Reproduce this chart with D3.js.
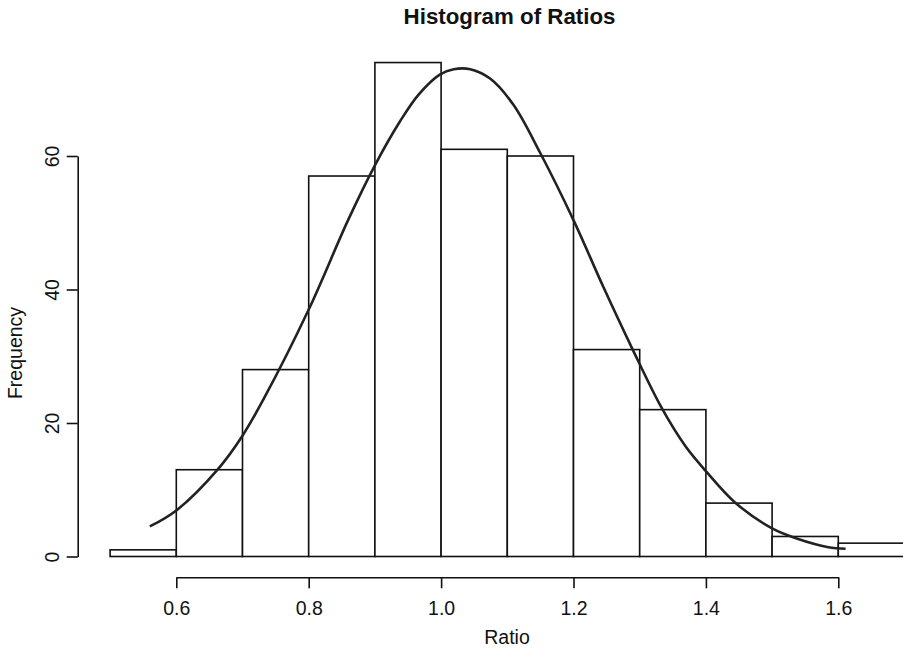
<!DOCTYPE html>
<html>
<head>
<meta charset="utf-8">
<script src="https://cdn.jsdelivr.net/npm/d3@7"></script>
<style>
  html, body { margin: 0; padding: 0; background: #fff; }
  svg { display: block; font-family: "Liberation Sans", Arial, sans-serif; }
</style>
</head>
<body>
<svg id="chart" width="903" height="652"></svg>
<script>
// ---- data ----
const binStarts = [0.5, 0.6, 0.7, 0.8, 0.9, 1.0, 1.1, 1.2, 1.3, 1.4, 1.5, 1.6];
const binWidth = 0.1;
const counts = [1, 13, 28, 57, 74, 61, 60, 31, 22, 8, 3, 2];
const xTicks = [0.6, 0.8, 1.0, 1.2, 1.4, 1.6];
const yTicks = [0, 20, 40, 60];
// curve
const curveX = [0.56, 0.60, 0.663, 0.70, 0.732, 0.80, 0.86, 0.90, 0.938, 0.966, 0.998, 1.019, 1.044, 1.074, 1.109, 1.149, 1.20, 1.245, 1.288, 1.333, 1.37, 1.40, 1.444, 1.50, 1.537, 1.585, 1.611];
const curveY = [4.5, 6.9, 13.1, 18.1, 23.6, 37, 50.5, 58.6, 65.2, 69.2, 72.2, 73.0, 73.0, 71.6, 67.7, 60.6, 50.4, 40.4, 31.3, 22.3, 16.4, 12.8, 8.1, 4.2, 2.7, 1.4, 1.16];
const title = "Histogram of Ratios";
const xLabel = "Ratio";
const yLabel = "Frequency";

// ---- scales ----
const svg = d3.select("#chart");
const x = d3.scaleLinear().domain([0.6, 1.6]).range([176.3, 838.3]);
const y = d3.scaleLinear().domain([0, 60]).range([556.5, 156]);

// bars
svg.append("g").selectAll("rect")
  .data(binStarts.map((s, i) => ({ s, c: counts[i] })))
  .join("rect")
  .attr("x", d => x(d.s))
  .attr("width", d => x(d.s + binWidth) - x(d.s))
  .attr("y", d => y(d.c))
  .attr("height", d => y(0) - y(d.c))
  .attr("fill", "#fff")
  .attr("stroke", "#111")
  .attr("stroke-width", 1.6);

// curve
const line = d3.line().x(d => x(d[0])).y(d => y(d[1])).curve(d3.curveCatmullRom.alpha(0.5));
svg.append("path")
  .datum(curveX.map((v, i) => [v, curveY[i]]))
  .attr("d", line)
  .attr("fill", "none")
  .attr("stroke", "#222")
  .attr("stroke-width", 2.6)
  .attr("stroke-linejoin", "round");

// x axis
const xAxis = d3.axisBottom(x).tickValues(xTicks).tickFormat(d3.format(".1f")).tickSize(11).tickSizeOuter(0);
const gx = svg.append("g").attr("transform", "translate(0,577.3)").call(xAxis);
gx.select(".domain").attr("stroke", "#111").attr("stroke-width", 1.6);
gx.selectAll(".tick line").attr("stroke", "#111").attr("stroke-width", 1.6);
gx.selectAll(".tick text").attr("font-size", "19.5px").attr("fill", "#111")
  .attr("font-family", "Liberation Sans, Arial, sans-serif").attr("dy", null).attr("y", 37.5);

// y axis
const yAxis = d3.axisLeft(y).tickValues(yTicks).tickSize(11).tickSizeOuter(0);
const gy = svg.append("g").attr("transform", "translate(77.7,0)").call(yAxis);
gy.select(".domain").attr("stroke", "#111").attr("stroke-width", 1.6);
gy.selectAll(".tick line").attr("stroke", "#111").attr("stroke-width", 1.6);
gy.selectAll(".tick text")
  .attr("font-size", "19.5px").attr("fill", "#111")
  .attr("font-family", "Liberation Sans, Arial, sans-serif")
  .attr("x", null).attr("dy", null)
  .attr("text-anchor", "middle")
  .attr("transform", "translate(-18.5,0) rotate(-90)");

// labels
svg.append("text").attr("x", 509.5).attr("y", 23.5).attr("text-anchor", "middle")
  .attr("font-size", "22.3px").attr("font-weight", "bold").attr("fill", "#111").text(title);
svg.append("text").attr("x", 507).attr("y", 644).attr("text-anchor", "middle")
  .attr("font-size", "19.5px").attr("fill", "#111").text(xLabel);
svg.append("text").attr("transform", "translate(22,353) rotate(-90)").attr("text-anchor", "middle")
  .attr("font-size", "19.5px").attr("fill", "#111").text(yLabel);
</script>
</body>
</html>
